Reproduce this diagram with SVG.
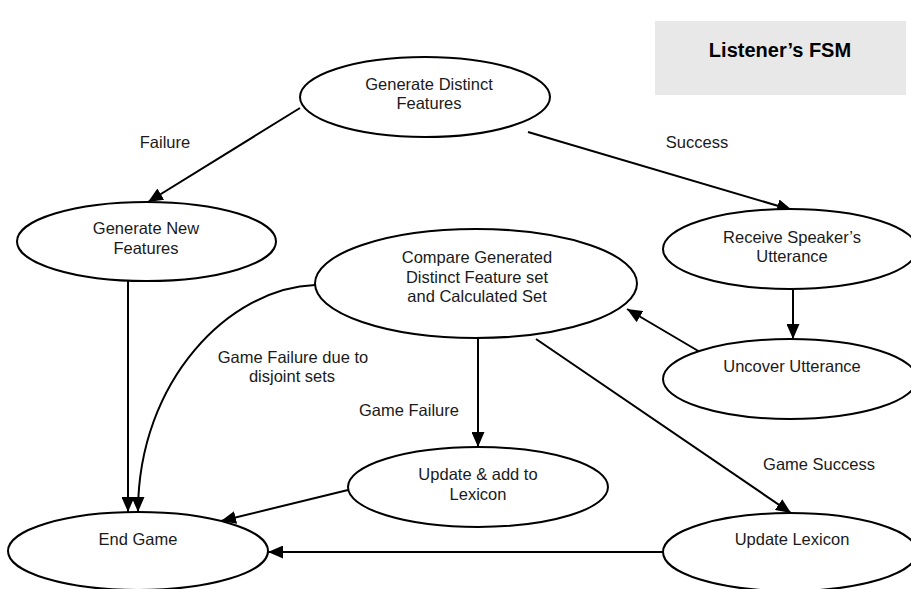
<svg xmlns="http://www.w3.org/2000/svg" width="911" height="589" viewBox="0 0 911 589">
<style>
.n ellipse{fill:#fff;stroke:#000;stroke-width:2}
text{font-family:"Liberation Sans",Arial,sans-serif;font-size:16.5px;fill:#1a1a1a;text-anchor:middle}
.t{font-weight:bold;font-size:20px;fill:#000}
.c line,.c path{stroke:#000;stroke-width:2;fill:none;marker-end:url(#ah)}
</style>
<defs>
<marker id="ah" markerUnits="userSpaceOnUse" markerWidth="15" markerHeight="13" refX="15" refY="6.5" orient="auto">
<path d="M0,0 L15,6.5 L0,13 z" fill="#000"/>
</marker>
</defs>
<rect width="911" height="589" fill="#fff"/>
<g id="title">
<rect x="655" y="21" width="251" height="74" fill="#e8e8e8"/>
<text class="t" x="780" y="57">Listener’s FSM</text>
</g>
<g id="connectors" class="c">
<line x1="300" y1="108" x2="148" y2="202"/>
<line x1="528" y1="132" x2="792" y2="210"/>
<line x1="793" y1="289" x2="793" y2="339"/>
<line x1="700" y1="352" x2="627" y2="309"/>
<line x1="478" y1="338" x2="478" y2="447"/>
<line x1="536" y1="339" x2="791" y2="513"/>
<line x1="128" y1="281" x2="128" y2="512"/>
<path d="M315,285 C230,288 138,380 138,512"/>
<line x1="348" y1="490" x2="221" y2="521"/>
<line x1="663" y1="552" x2="268" y2="552"/>
</g>
<g id="labels">
<text x="165" y="148">Failure</text>
<text x="697" y="148">Success</text>
<text x="293" y="363">Game Failure due to</text>
<text x="292" y="382">disjoint sets</text>
<text x="409" y="416">Game Failure</text>
<text x="819" y="470">Game Success</text>
</g>
<g id="n1" class="n"><ellipse cx="425" cy="97" rx="125" ry="40"/><text x="429" y="90">Generate Distinct</text><text x="429" y="109">Features</text></g>
<g id="n2" class="n"><ellipse cx="146.5" cy="241.5" rx="129.5" ry="39.5"/><text x="146" y="234">Generate New</text><text x="146" y="254">Features</text></g>
<g id="n3" class="n"><ellipse cx="476" cy="283.5" rx="161" ry="54.5"/><text x="477" y="263">Compare Generated</text><text x="477" y="283">Distinct Feature set</text><text x="477" y="302">and Calculated Set</text></g>
<g id="n4" class="n"><ellipse cx="790" cy="249" rx="127" ry="40"/><text x="792" y="243">Receive Speaker’s</text><text x="792" y="262">Utterance</text></g>
<g id="n5" class="n"><ellipse cx="790" cy="379" rx="127" ry="40"/><text x="792" y="372">Uncover Utterance</text></g>
<g id="n6" class="n"><ellipse cx="478" cy="487" rx="130" ry="40"/><text x="478" y="480">Update &amp; add to</text><text x="478" y="500">Lexicon</text></g>
<g id="n7" class="n"><ellipse cx="138" cy="551" rx="130" ry="39"/><text x="138" y="545">End Game</text></g>
<g id="n8" class="n"><ellipse cx="790" cy="552" rx="127" ry="39"/><text x="792" y="545">Update Lexicon</text></g>
</svg>
